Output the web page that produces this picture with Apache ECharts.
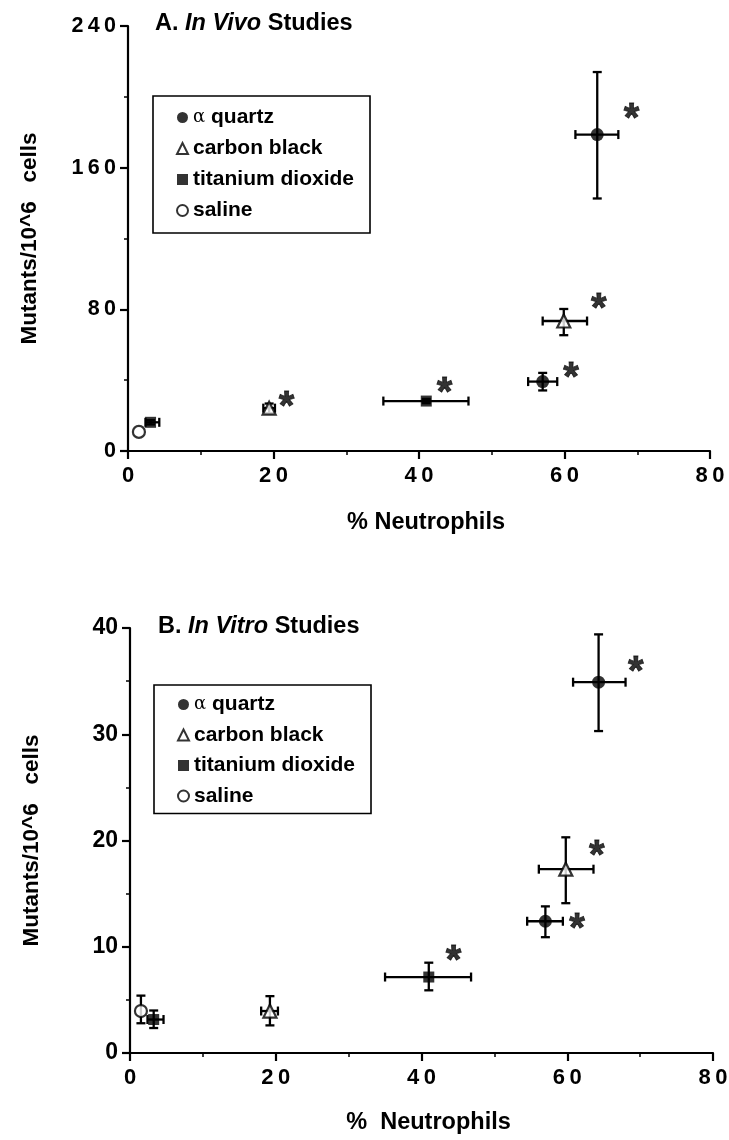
<!DOCTYPE html>
<html>
<head>
<meta charset="utf-8">
<script src="https://cdn.jsdelivr.net/npm/echarts/dist/echarts.min.js"></script>
<style>
html,body{margin:0;padding:0;background:#fff;}
#chart{width:729px;height:1140px;}
</style>
</head>
<body>
<div id="chart"></div>
<script>
// ---------------- DATA ----------------
// Each point: [x (% neutrophils), y (mutants/10^6 cells), xLow, xHigh, yLow, yHigh]
const materials = ['α quartz', 'carbon black', 'titanium dioxide', 'saline'];

const xTicks = [0, 20, 40, 60, 80];
const vivoYTicks = [0, 80, 160, 240];
const vitroYTicks = [0, 10, 20, 30, 40];

// Panel A: In Vivo
const vivoQuartz = [[57.0, 39.2, 55.0, 59.0, 34.2, 44.1], [64.5, 178.7, 61.5, 67.4, 142.6, 214.0]];
const vivoCarbon = [[19.4, 24.2, 18.6, 20.2, 21.3, 26.8], [59.9, 73.4, 57.0, 63.1, 65.4, 80.2]];
const vivoTitanium = [[3.1, 16.2, 2.4, 4.3, 15.0, 17.4], [41.0, 28.2, 35.1, 46.8, 27.0, 29.4]];
const vivoSaline = [[1.5, 10.8, 1.5, 1.5, 10.8, 10.8]];
const vivoStars = [[69.2, 192.3], [64.7, 84.6], [60.9, 46.0], [43.5, 37.4], [21.8, 29.5]];

// Panel B: In Vitro
const vitroQuartz = [[57.0, 12.4, 54.5, 59.4, 10.9, 13.8], [64.3, 34.9, 60.8, 68.0, 30.3, 39.4]];
const vitroCarbon = [[19.2, 3.95, 18.0, 20.3, 2.6, 5.35], [59.8, 17.3, 56.1, 63.6, 14.1, 20.3]];
const vitroTitanium = [[3.25, 3.15, 2.4, 4.6, 2.35, 4.0], [41.0, 7.15, 35.0, 46.8, 5.9, 8.5]];
const vitroSaline = [[1.5, 3.95, 1.5, 1.5, 2.8, 5.4]];
const vitroStars = [[69.4, 36.6], [64.05, 19.3], [61.35, 12.4], [44.4, 9.4]];

// ---------------- CHART ----------------
const FONT = '"Liberation Sans", Arial, Helvetica, sans-serif';
const chart = echarts.init(document.getElementById('chart'), null, {renderer: 'canvas'});

const spaced = v => String(v).split('').join('\u2009');

const symbolStyles = {
  'α quartz': {symbol: 'circle', symbolSize: 13, itemStyle: {color: '#000', borderColor: '#000', borderWidth: 0}},
  'carbon black': {symbol: 'triangle', symbolSize: 13, itemStyle: {color: '#fff', borderColor: '#000', borderWidth: 2.2}},
  'titanium dioxide': {symbol: 'rect', symbolSize: 11, itemStyle: {color: '#000', borderColor: '#000', borderWidth: 0}},
  'saline': {symbol: 'circle', symbolSize: 12, itemStyle: {color: '#fff', borderColor: '#000', borderWidth: 2.2}}
};

function errRender(params, api) {
  const x = api.value(0), y = api.value(1);
  const xl = api.value(2), xh = api.value(3), yl = api.value(4), yh = api.value(5);
  const style = {stroke: '#000', lineWidth: 2.3, fill: null};
  const cap = 4.5;
  const children = [];
  if (xh > xl) {
    const a = api.coord([xl, y]), b = api.coord([xh, y]);
    children.push({type: 'line', shape: {x1: a[0], y1: a[1], x2: b[0], y2: b[1]}, style});
    children.push({type: 'line', shape: {x1: a[0], y1: a[1] - cap, x2: a[0], y2: a[1] + cap}, style});
    children.push({type: 'line', shape: {x1: b[0], y1: b[1] - cap, x2: b[0], y2: b[1] + cap}, style});
  }
  if (yh > yl) {
    const a = api.coord([x, yl]), b = api.coord([x, yh]);
    children.push({type: 'line', shape: {x1: a[0], y1: a[1], x2: b[0], y2: b[1]}, style});
    children.push({type: 'line', shape: {x1: a[0] - cap, y1: a[1], x2: a[0] + cap, y2: a[1]}, style});
    children.push({type: 'line', shape: {x1: b[0] - cap, y1: b[1], x2: b[0] + cap, y2: b[1]}, style});
  }
  return {type: 'group', children};
}

function panelSeries(idx, sets, stars) {
  const out = [];
  const all = [].concat(...sets);
  out.push({
    type: 'custom', xAxisIndex: idx, yAxisIndex: idx, renderItem: errRender,
    data: all, encode: {x: 0, y: 1}, z: 2, silent: true
  });
  sets.forEach((pts, i) => {
    const name = materials[i];
    const st = symbolStyles[name];
    out.push({
      type: 'scatter', name, xAxisIndex: idx, yAxisIndex: idx,
      symbol: st.symbol, symbolSize: st.symbolSize, itemStyle: st.itemStyle,
      data: pts.map(p => [p[0], p[1]]), z: 5, silent: true
    });
  });
  out.push({
    type: 'scatter', name: 'sig' + idx, xAxisIndex: idx, yAxisIndex: idx,
    symbol: 'circle', symbolSize: 1, itemStyle: {color: 'rgba(0,0,0,0)'},
    data: stars, z: 6, silent: true,
    label: {show: true, position: 'inside', formatter: '*', color: '#000',
      fontFamily: FONT, fontWeight: 'bold', fontSize: 40, offset: [0, 9],
      textBorderColor: '#000', textBorderWidth: 0.8}
  });
  return out;
}

function xAxisCfg(idx, nameGap, name) {
  return {
    gridIndex: idx, type: 'value', min: 0, max: 80, interval: 20,
    name, nameLocation: 'middle', nameGap,
    nameTextStyle: {fontFamily: FONT, fontWeight: 'bold', fontSize: 23.5, color: '#000', padding: [0, 0, 0, 14]},
    axisLine: {show: true, onZero: false, lineStyle: {color: '#000', width: 2.2}},
    axisTick: {show: true, inside: false, length: 8, lineStyle: {color: '#000', width: 2.2}},
    minorTick: {show: true, splitNumber: 2, length: 4, lineStyle: {color: '#000', width: 1.5}},
    splitLine: {show: false},
    axisLabel: {fontFamily: FONT, fontWeight: 'bold', fontSize: 22, color: '#000', margin: 14,
      formatter: v => spaced(v)}
  };
}

function yAxisCfg(idx, max, interval, fs, fmt) {
  return {
    gridIndex: idx, type: 'value', min: 0, max, interval,
    name: 'Mutants/10^6   cells', nameLocation: 'middle', nameGap: 87, nameRotate: 90,
    nameTextStyle: {fontFamily: FONT, fontWeight: 'bold', fontSize: 22.5, color: '#000'},
    axisLine: {show: true, onZero: false, lineStyle: {color: '#000', width: 2.2}},
    axisTick: {show: true, inside: false, length: 8, lineStyle: {color: '#000', width: 2.2}},
    minorTick: {show: true, splitNumber: 2, length: 4, lineStyle: {color: '#000', width: 1.5}},
    splitLine: {show: false},
    axisLabel: {fontFamily: FONT, fontWeight: 'bold', fontSize: fs, color: '#000', margin: 12, formatter: fmt}
  };
}

function legendCfg(left, top, padding, itemGap) {
  return {
    show: true, orient: 'vertical', left, top, padding, itemGap,
    data: materials, selectedMode: false,
    itemWidth: 11, itemHeight: 11,
    borderColor: '#000', borderWidth: 1.6, borderRadius: 0,
    textStyle: {fontFamily: FONT, fontWeight: 'bold', fontSize: 21, color: '#000', lineHeight: 21,
      rich: {r: {fontFamily: '"DejaVu Serif", serif', fontWeight: 'normal', fontSize: 18, color: '#000'}}},
    formatter: n => n.indexOf('α') === 0 ? '{r|α} quartz' : n
  };
}

const titleRich = {
  b: {fontFamily: FONT, fontWeight: 'bold', fontSize: 23.5, color: '#000'},
  i: {fontFamily: FONT, fontWeight: 'bold', fontStyle: 'italic', fontSize: 23.5, color: '#000'}
};

const option = {
  backgroundColor: '#fff',
  animation: false,
  title: [
    {left: 150, top: 7, text: '{b|A. }{i|In Vivo}{b| Studies}', textStyle: {rich: titleRich}},
    {left: 153, top: 610, text: '{b|B. }{i|In Vitro}{b| Studies}', textStyle: {rich: titleRich}}
  ],
  legend: [
    legendCfg(153, 96, [11, 16, 12, 23], 10),
    legendCfg(154, 685, [9, 16, 7, 23], 9.5)
  ],
  grid: [
    {left: 128, right: 19, top: 26, bottom: 689, containLabel: false, outerBoundsMode: 'none'},
    {left: 130, right: 16, top: 628, bottom: 87, containLabel: false, outerBoundsMode: 'none'}
  ],
  xAxis: [xAxisCfg(0, 60, '% Neutrophils'), xAxisCfg(1, 58, '%  Neutrophils')],
  yAxis: [
    yAxisCfg(0, vivoYTicks[vivoYTicks.length - 1], vivoYTicks[1] - vivoYTicks[0], 21.5, v => spaced(v)),
    yAxisCfg(1, vitroYTicks[vitroYTicks.length - 1], vitroYTicks[1] - vitroYTicks[0], 23, v => String(v))
  ],
  series: [
    ...panelSeries(0, [vivoQuartz, vivoCarbon, vivoTitanium, vivoSaline], vivoStars),
    ...panelSeries(1, [vitroQuartz, vitroCarbon, vitroTitanium, vitroSaline], vitroStars)
  ]
};
chart.setOption(option);
</script>
</body>
</html>
